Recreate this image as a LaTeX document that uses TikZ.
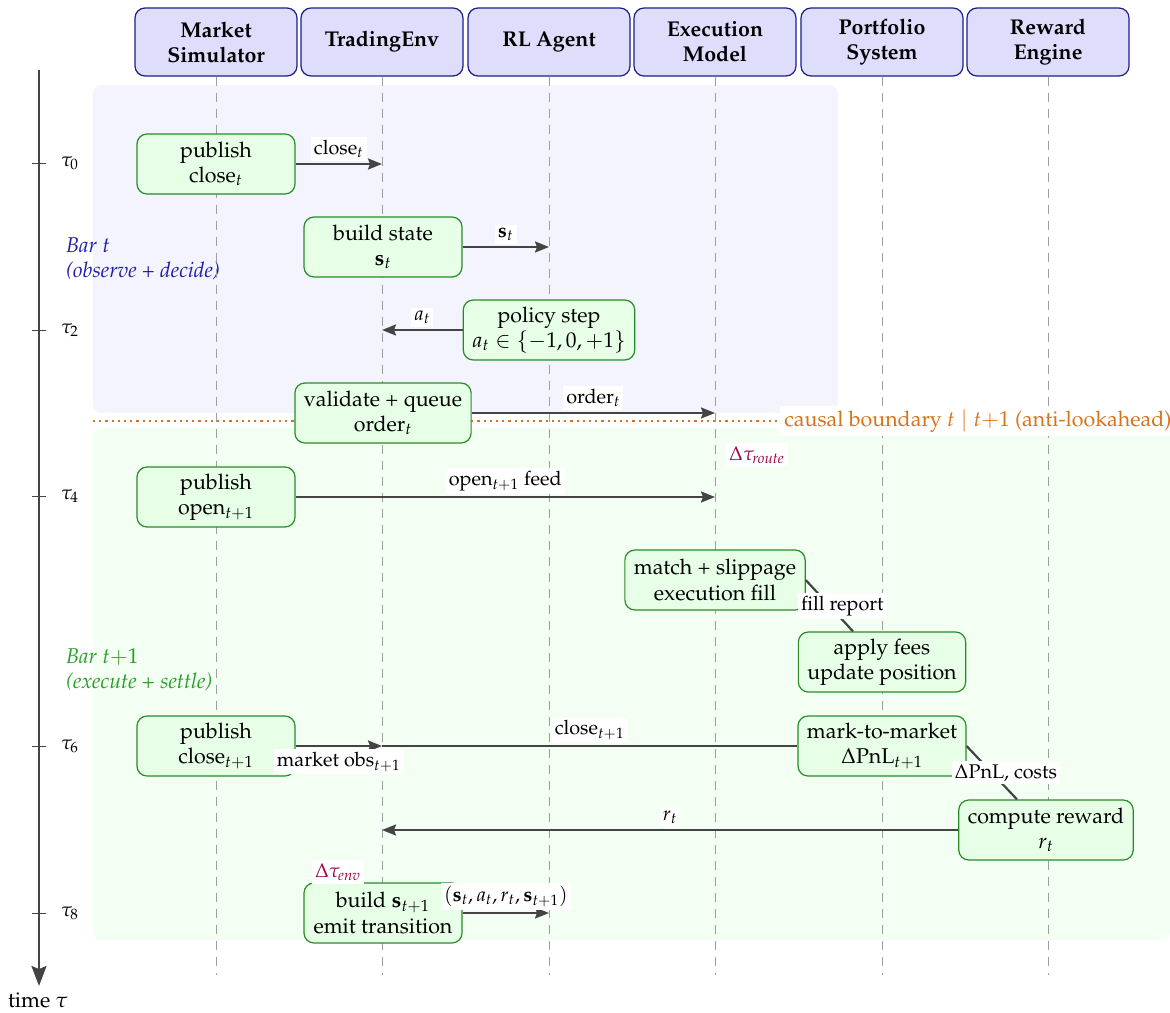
\documentclass[tikz,border=0pt]{standalone}
\usepackage[T1]{fontenc}
\usepackage{mathpazo}
\usetikzlibrary{arrows.meta}
\definecolor{hdrfill}{RGB}{222,222,252}
\definecolor{hdrdraw}{RGB}{28,28,140}
\definecolor{actfill}{RGB}{230,255,230}
\definecolor{actdraw}{RGB}{40,140,40}
\definecolor{obsfill}{RGB}{244,244,255}
\definecolor{setfill}{RGB}{242,255,242}
\definecolor{msgcol}{RGB}{68,68,68}
\definecolor{causal}{RGB}{215,115,25}
\definecolor{delaycol}{RGB}{150,10,70}
\definecolor{obstext}{RGB}{30,30,170}
\definecolor{settext}{RGB}{40,160,40}
\newcommand{\mainsize}{\fontsize{10.7pt}{12.6pt}\selectfont}
\newcommand{\labelsize}{\fontsize{9.9pt}{11.8pt}\selectfont}
\begin{document}
\begin{tikzpicture}[x=0.5pt,y=-0.5pt,font=\mainsize,
actor/.style={draw=hdrdraw,fill=hdrfill,rounded corners=5pt,line width=0.6pt,minimum width=81pt,minimum height=34pt,align=center,font=\mainsize\bfseries,inner sep=2pt},
action/.style={draw=actdraw,fill=actfill,rounded corners=5pt,line width=0.6pt,minimum width=79pt,minimum height=30pt,align=center,inner xsep=4.5pt,inner ysep=3pt},
msg/.style={draw=msgcol,line width=1.1pt,-{Stealth[length=7pt,width=5.5pt,inset=1pt]}},
link/.style={draw=msgcol,line width=1.1pt},
msglabel/.style={fill=white,font=\labelsize,inner sep=1.5pt},
lifeline/.style={draw=gray!75,line width=0.5pt,dash pattern=on 4.5pt off 3.5pt},
delay/.style={fill=white,text=delaycol,font=\labelsize,inner sep=1.5pt},
phase/.style={anchor=west,align=left,font=\mainsize\itshape}]
\useasboundingbox (0,0) rectangle (1170,1012);
% phases of the bar
\fill[obsfill,rounded corners=4pt] (93,85) rectangle (838,413);
\fill[setfill,rounded corners=4pt] (93,428) rectangle (1170,940);
\node[phase,text=obstext] (bart) at (59,259) {Bar $t$\\(observe + decide)};
\node[phase,text=settext] (bart1) at (59,670) {Bar $t{+}1$\\(execute + settle)};
% actors and lifelines
\coordinate (bottom) at (0,975);
\foreach \n/\x/\t in {mkt/216/Market\\Simulator,env/382/TradingEnv,agent/549/RL Agent,exec/715/Execution\\Model,port/882/Portfolio\\System,rwd/1048/Reward\\Engine}{
  \node[actor] (\n) at (\x,42) {\t};
  \draw[lifeline] (\n.south) -- (\n.south |- bottom);
}
% time axis
\coordinate (ttop) at (39,70);
\coordinate (tend) at (39,986);
\draw[msgcol,line width=1.2pt,-{Stealth[length=10pt,width=7.5pt,inset=1.5pt]}] (ttop) -- (tend);
\node (tlabel) at (38,1000) {time $\tau$};
\foreach \y/\l in {163/0,330/2,496/4,746/6,913/8}{
  \draw[msgcol,line width=0.5pt] (32,\y) -- (46,\y);
  \node[font=\labelsize,anchor=west] at (54,\y) {$\tau_{\l}$};
}
% causal boundary
\coordinate (cb) at (93,421);
\coordinate (cbend) at (780,421);
\draw[causal,line width=1.1pt,dotted] (cb) -- (cbend);
\node[anchor=west,fill=white,text=causal,inner sep=2pt] (cblabel) at (cbend) {causal boundary $t \mid t{+}1$ (anti-lookahead)};
% steps
\node[action] (pubclose) at (216,164) {publish\\close$_t$};
\node[action] (buildstate) at (383,247) {build state\\$\mathbf{s}_t$};
\node[action] (policy) at (549,330) {policy step\\$a_t \in \{-1,0,+1\}$};
\node[action] (validate) at (383,413) {validate + queue\\order$_t$};
\node[action] (pubopen) at (216,497) {publish\\open$_{t+1}$};
\node[action] (match) at (715,580) {match + slippage\\execution fill};
\node[action] (fees) at (882,662) {apply fees\\update position};
\node[action] (mtm) at (882,746) {mark-to-market\\$\Delta$PnL$_{t+1}$};
\node[action] (pubclose1) at (216,746) {publish\\close$_{t+1}$};
\node[action] (reward) at (1046,830) {compute reward\\$r_t$};
\node[action] (buildnext) at (383,913) {build $\mathbf{s}_{t+1}$\\emit transition};
% messages
\draw[msg] (pubclose.east) -- (pubclose.east -| env) node[msglabel,midway,above=1pt] {close$_t$};
\draw[msg] (buildstate.east) -- (buildstate.east -| agent) node[msglabel,midway,above=1pt] {$\mathbf{s}_t$};
\draw[msg] (policy.west) -- (policy.west -| env) node[msglabel,midway,above=1pt] {$a_t$};
\draw[msg] (validate.east) -- (validate.east -| exec) node[msglabel,midway,above=1pt] {order$_t$};
\draw[msg] (pubopen.east) -- (pubopen.east -| exec) node[msglabel,midway,above=1pt] {open$_{t+1}$ feed};
\node[delay] (droute) at (757,455) {$\Delta\tau_{\mathit{route}}$};
\draw[link] (match.east) -- ([xshift=-14.5pt]fees.north) node[msglabel,midway,xshift=6.5pt] {fill report};
\draw[link] (pubclose1.east -| env) -- (mtm.west) node[msglabel,midway,above=1pt] {close$_{t+1}$};
\draw[msg] (pubclose1.east) -- (pubclose1.east -| env) node[msglabel,midway,below=1pt] {market obs$_{t+1}$};
\draw[link] (mtm.east) -- ([xshift=-14.5pt]reward.north) node[msglabel,midway,xshift=7pt] {$\Delta$PnL, costs};
\draw[msg] (reward.west) -- (reward.west -| env) node[msglabel,midway,above=1pt] {$r_t$};
\node[delay] (denv) at (338,872) {$\Delta\tau_{\mathit{env}}$};
\draw[msg] (buildnext.east) -- (buildnext.east -| agent) node[msglabel,midway,above=1pt] {$(\mathbf{s}_t,a_t,r_t,\mathbf{s}_{t+1})$};
\end{tikzpicture}
\end{document}
